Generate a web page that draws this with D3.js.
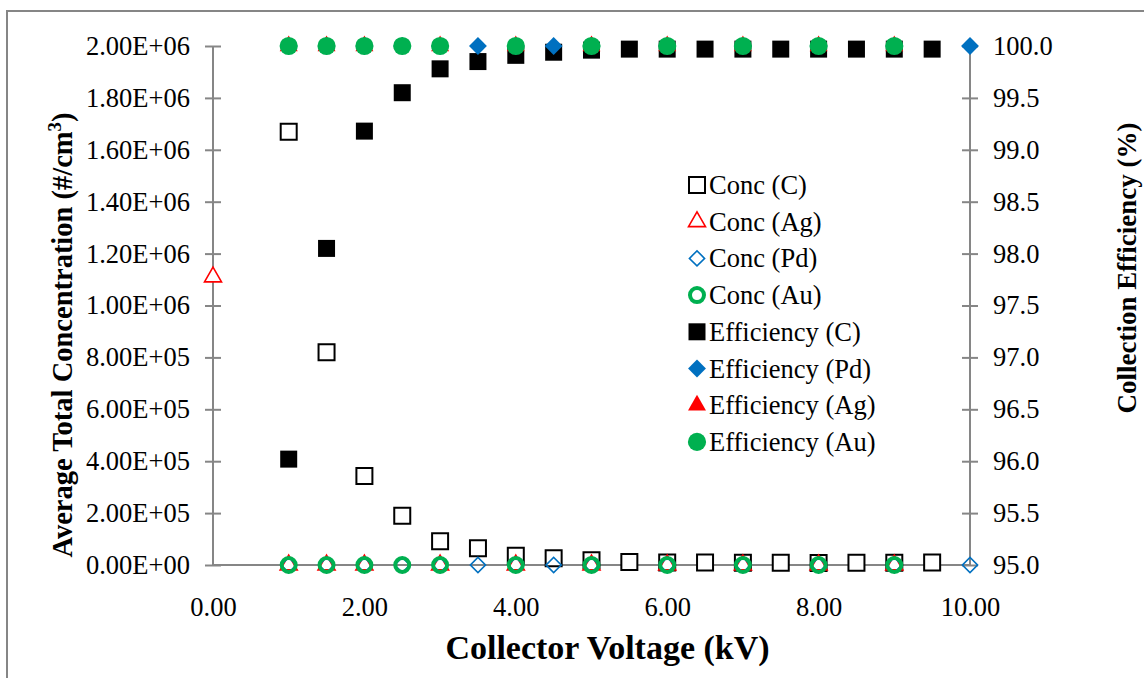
<!DOCTYPE html>
<html lang="en">
<head>
	<meta charset="UTF-8">
	<script src="https://cdnjs.cloudflare.com/ajax/libs/d3/7.8.5/d3.min.js"></script>
	<title>Collector Voltage</title>
	<style>
		body { margin: 0; background: #fff; }
		svg { display: block; font-family: "Liberation Serif", "Times New Roman", serif; }
		.axis path, .axis line { stroke: #868686; stroke-width: 2; }
		.axis text { font-size: 26.5px; fill: #000; font-family: "Liberation Serif", serif; }
	</style>
</head>
<body>
<div id="container"></div>
<script>
	// data
	const voltC = [1, 1.5, 2, 2.5, 3, 3.5, 4, 4.5, 5, 5.5, 6, 6.5, 7, 7.5, 8, 8.5, 9, 9.5];
	const concC = [1670000, 820000, 343000, 190000, 92000, 65000, 36000, 26000, 18000, 12000, 10000, 10000, 9000, 9000, 8000, 9000, 9000, 10000];
	const effC = [96.02, 98.05, 99.18, 99.55, 99.78, 99.85, 99.91, 99.94, 99.96, 99.97, 99.97, 99.97, 99.97, 99.97, 99.97, 99.97, 99.97, 99.97];

	const voltAg = [0, 1, 1.5, 2, 3, 4, 5, 6, 7, 8, 9];
	const concAg = [1110000, 0, 0, 0, 0, 0, 0, 0, 0, 0, 0];
	const effAg = [null, 100, 100, 100, 100, 100, 100, 100, 100, 100, 100];

	const voltPd = [1, 1.5, 2, 2.5, 3, 3.5, 4, 4.5, 5, 6, 7, 8, 9, 10];
	const concPd = [0, 0, 0, 0, 0, 0, 0, 0, 0, 0, 0, 0, 0, 0];
	const effPd = [100, 100, 100, 100, 100, 100, 100, 100, 100, 100, 100, 100, 100, 100];

	const voltAu = [1, 1.5, 2, 2.5, 3, 4, 5, 6, 7, 8, 9];
	const concAu = [0, 0, 0, 0, 0, 0, 0, 0, 0, 0, 0];
	const effAu = [100, 100, 100, 100, 100, 100, 100, 100, 100, 100, 100];

	const xTicks = [0, 2, 4, 6, 8, 10];
	const leftTicks = [0, 200000, 400000, 600000, 800000, 1000000, 1200000, 1400000, 1600000, 1800000, 2000000];
	const rightTicks = [95, 95.5, 96, 96.5, 97, 97.5, 98, 98.5, 99, 99.5, 100];

	const width = 1144,
		height = 678;
	const plotLeft = 213, plotRight = 970, plotTop = 46, plotBottom = 565;

	const x = d3.scaleLinear().domain([0, 10]).range([plotLeft, plotRight]);
	const yL = d3.scaleLinear().domain([0, 2000000]).range([plotBottom, plotTop]);
	const yR = d3.scaleLinear().domain([95, 100]).range([plotBottom, plotTop]);

	const svg = d3.select('#container')
		.append('svg')
		.attr('width', width)
		.attr('height', height);

	// chart border
	svg.append('rect')
		.attr('x', 7).attr('y', 11)
		.attr('width', width + 10).attr('height', height + 10)
		.attr('fill', '#fff')
		.attr('stroke', '#868686')
		.attr('stroke-width', 2);

	// axes
	svg.append('g')
		.attr('class', 'axis')
		.attr('transform', `translate(0, ${plotBottom})`)
		.call(d3.axisBottom(x).tickValues(xTicks).tickSize(0).tickPadding(32).tickFormat(d3.format('.2f')))
		.call(g => g.select('.domain').attr('d', `M${plotLeft},0H${plotRight}`));

	const fmtE = d => {
		const s = d.toExponential(2).replace('e', 'E');
		return s.replace(/E([+-])(\d)$/, 'E$10$2');
	};
	svg.append('g')
		.attr('class', 'axis')
		.attr('transform', `translate(${plotLeft}, 0)`)
		.call(d3.axisLeft(yL).tickValues(leftTicks).tickSizeInner(8).tickSizeOuter(0).tickPadding(15).tickFormat(fmtE))
		.call(g => g.selectAll('.tick line').attr('x1', 8))
		.call(g => g.select('.domain').attr('d', `M0,${plotBottom}V${plotTop}`));

	svg.append('g')
		.attr('class', 'axis')
		.attr('transform', `translate(${plotRight}, 0)`)
		.call(d3.axisRight(yR).tickValues(rightTicks).tickSizeInner(8).tickSizeOuter(0).tickPadding(15).tickFormat(d3.format('.1f')))
		.call(g => g.selectAll('.tick line').attr('x1', -8))
		.call(g => g.select('.domain').attr('d', `M0,${plotBottom}V${plotTop}`));

	// axis titles
	svg.append('text')
		.attr('x', (plotLeft + plotRight) / 2 + 16)
		.attr('y', 659)
		.attr('text-anchor', 'middle')
		.attr('font-weight', 'bold')
		.attr('font-size', 34)
		.text('Collector Voltage (kV)');

	const lt = svg.append('text')
		.attr('transform', 'translate(72, 335) rotate(-90)')
		.attr('text-anchor', 'middle')
		.attr('font-weight', 'bold')
		.attr('font-size', 28.5);
	lt.append('tspan').text('Average Total Concentration (#/cm');
	lt.append('tspan').attr('dy', -11).attr('font-size', 19).text('3');
	lt.append('tspan').attr('dy', 11).text(')');

	svg.append('text')
		.attr('transform', 'translate(1136, 268) rotate(-90)')
		.attr('text-anchor', 'middle')
		.attr('font-weight', 'bold')
		.attr('font-size', 27)
		.text('Collection Efficiency (%)');

	// marker styles
	const styles = {
		concC:  { type: d3.symbolSquare, size: 256, fill: '#fff', stroke: '#000', sw: 2 },
		concAg: { type: d3.symbolTriangle, size: 125, fill: '#fff', stroke: '#ff0000', sw: 1.6 },
		concPd: { type: d3.symbolSquare, size: 115, fill: 'none', stroke: '#0070c0', sw: 1.6, rot: 45 },
		concAu: { type: d3.symbolCircle, size: 154, fill: 'none', stroke: '#00b050', sw: 4 },
		effC:   { type: d3.symbolSquare, size: 289, fill: '#000', stroke: 'none', sw: 0 },
		effPd:  { type: d3.symbolSquare, size: 160, fill: '#0070c0', stroke: 'none', sw: 0, rot: 45 },
		effAg:  { type: d3.symbolTriangle, size: 140, fill: '#ff0000', stroke: 'none', sw: 0 },
		effAu:  { type: d3.symbolCircle, size: 260, fill: '#00b050', stroke: 'none', sw: 0 }
	};

	function drawSeries(key, xs, ys, yScale) {
		const st = styles[key];
		const pts = xs.map((v, i) => [v, ys[i]]).filter(p => p[1] != null);
		svg.append('g').selectAll('path')
			.data(pts)
			.join('path')
			.attr('d', d3.symbol().type(st.type).size(st.size))
			.attr('transform', d => `translate(${x(d[0])}, ${yScale(d[1])})` + (st.rot ? ` rotate(${st.rot})` : ''))
			.attr('fill', st.fill)
			.attr('stroke', st.stroke)
			.attr('stroke-width', st.sw);
	}

	drawSeries('concC', voltC, concC, yL);
	drawSeries('concAg', voltAg, concAg, yL);
	drawSeries('concPd', voltPd, concPd, yL);
	drawSeries('concAu', voltAu, concAu, yL);
	drawSeries('effC', voltC, effC, yR);
	drawSeries('effPd', voltPd, effPd, yR);
	drawSeries('effAg', voltAg, effAg, yR);
	drawSeries('effAu', voltAu, effAu, yR);

	// legend
	const legendItems = [
		['concC', 'Conc (C)'], ['concAg', 'Conc (Ag)'], ['concPd', 'Conc (Pd)'], ['concAu', 'Conc (Au)'],
		['effC', 'Efficiency (C)'], ['effPd', 'Efficiency (Pd)'], ['effAg', 'Efficiency (Ag)'], ['effAu', 'Efficiency (Au)']
	];
	const legend = svg.append('g');
	legendItems.forEach((item, i) => {
		const st = styles[item[0]];
		const ly = 185 + i * 36.7;
		legend.append('path')
			.attr('d', d3.symbol().type(st.type).size(st.size))
			.attr('transform', `translate(697, ${ly})` + (st.rot ? ` rotate(${st.rot})` : ''))
			.attr('fill', st.fill)
			.attr('stroke', st.stroke)
			.attr('stroke-width', st.sw);
		legend.append('text')
			.attr('x', 709)
			.attr('y', ly + 9)
			.attr('font-size', 26.5)
			.text(item[1]);
	});
</script>
</body>
</html>
